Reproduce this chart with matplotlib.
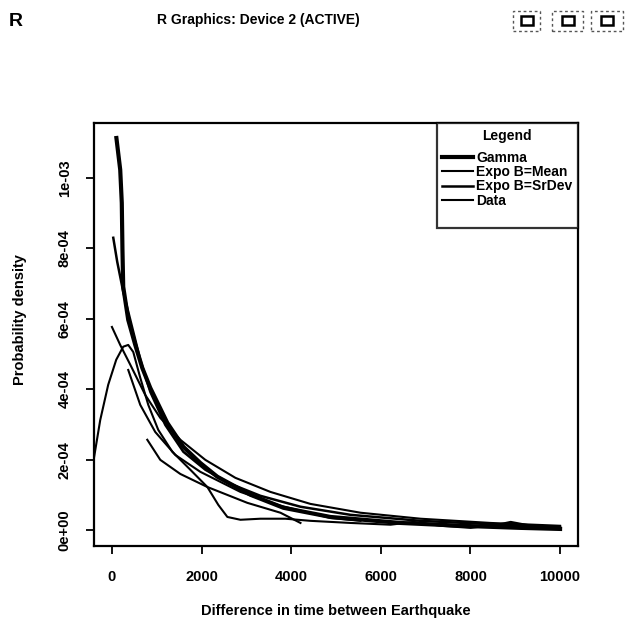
import matplotlib
matplotlib.use('Agg')
import matplotlib.pyplot as plt
from matplotlib.patches import Rectangle
from matplotlib.lines import Line2D

plt.rcParams['font.family'] = ['Liberation Sans', 'DejaVu Sans']

# Values (x: time difference, y: density in 1e-4 units)
gamma_x = [100, 185, 220, 235, 252, 364, 521, 677, 856, 1235, 1593, 1973, 2353,
           3090, 3827, 4877, 6441, 7781, 9122, 10000]
gamma_y = [11.13, 10.23, 9.29, 7.96, 6.91, 5.97, 5.26, 4.61, 4.04, 3.05, 2.37, 1.91,
           1.52, 1.01, 0.64, 0.38, 0.21, 0.13, 0.07, 0.04]

sd_x = [30, 118, 252, 409, 632, 856, 1191, 1593, 2084, 2643, 3313, 4207, 5324,
        6888, 8675, 10000]
sd_y = [8.30, 7.62, 6.77, 5.97, 4.84, 3.93, 2.99, 2.23, 1.72, 1.32, 0.98, 0.67,
        0.44, 0.27, 0.16, 0.10]

mean_x = [0, 185, 409, 744, 1079, 1526, 2084, 2755, 3537, 4430, 5547, 6888, 8452, 10000]
mean_y = [5.77, 5.26, 4.70, 3.84, 3.19, 2.57, 2.00, 1.49, 1.09, 0.75, 0.50, 0.33,
          0.21, 0.13]

data_x = [-400, -261, -83, 96, 252, 364, 476, 632, 811, 1034, 1347, 1749, 2129,
          2375, 2576, 2867, 3313, 3872, 4430, 5324, 6218, 6731, 7335, 8005, 8675,
          8899, 9234, 9681, 10000]
data_y = [2.06, 3.13, 4.13, 4.84, 5.21, 5.26, 5.06, 4.33, 3.56, 2.85, 2.23, 1.72,
          1.23, 0.72, 0.38, 0.30, 0.33, 0.33, 0.27, 0.21, 0.16, 0.24, 0.13, 0.07,
          0.18, 0.24, 0.16, 0.07, 0.04]

# two extra overlaid curves without legend entry
extra1_x = [789, 1079, 1526, 2129, 3022, 3760, 4207]
extra1_y = [2.57, 2.00, 1.60, 1.23, 0.78, 0.50, 0.21]
extra2_x = [364, 632, 967, 1414, 1973, 2867, 3760, 4877, 5547]
extra2_y = [4.55, 3.56, 2.79, 2.14, 1.66, 1.09, 0.70, 0.35, 0.27]

x_ticks = [0, 2000, 4000, 6000, 8000, 10000]
y_ticks = [0, 2e-4, 4e-4, 6e-4, 8e-4, 1e-3]
y_tick_labels = ['0e+00', '2e-04', '4e-04', '6e-04', '8e-04', '1e-03']

fig = plt.figure(figsize=(6.3, 6.33), dpi=100)
ax = fig.add_axes([94 / 630, 1 - 546 / 633, 484 / 630, 423 / 633])

def sc(v):
    return [a * 1e-4 for a in v]

ax.plot(extra1_x, sc(extra1_y), color='black', lw=1.5)
ax.plot(extra2_x, sc(extra2_y), color='black', lw=1.5)
l_gamma, = ax.plot(gamma_x, sc(gamma_y), color='black', lw=3)
l_mean, = ax.plot(mean_x, sc(mean_y), color='black', lw=1.5)
l_sd, = ax.plot(sd_x, sc(sd_y), color='black', lw=1.8)
l_data, = ax.plot(data_x, sc(data_y), color='black', lw=1.5)

ax.set_xlim(-400, 10400)
ax.set_ylim(-4.44e-5, 1.1556e-3)
ax.set_xticks(x_ticks)
ax.set_xticklabels([str(t) for t in x_ticks])
ax.set_yticks(y_ticks)
ax.set_yticklabels(y_tick_labels, rotation=90, va='center')
ax.tick_params(direction='out', length=6, width=1.3, labelsize=10.5, color='black')
ax.tick_params(axis='x', pad=11)
ax.tick_params(axis='y', pad=10)
for lab in ax.get_xticklabels() + ax.get_yticklabels():
    lab.set_fontweight('bold')
for s in ax.spines.values():
    s.set_linewidth(1.6)

# blank last row gives the extra room at the bottom of the R legend box
blank = Line2D([], [], color='none')
leg = ax.legend([l_gamma, l_mean, l_sd, l_data, blank],
                ['Gamma', 'Expo B=Mean', 'Expo B=SrDev', 'Data', ' '],
                loc='upper right', title='Legend', frameon=True,
                fancybox=False, edgecolor='black', borderaxespad=0,
                handlelength=2.2, handletextpad=0.25, labelspacing=0.02,
                borderpad=0.4, prop={'weight': 'bold', 'size': 10})
leg.get_frame().set_linewidth(1.6)
leg.get_title().set_fontweight('bold')
leg.get_title().set_fontsize(10)
leg._legend_box.sep = 6

fig.text(336 / 630, 1 - 611 / 633, 'Difference in time between Earthquake',
         ha='center', va='center', fontsize=10.5, fontweight='bold')
fig.text(20 / 630, 1 - 320 / 633, 'Probability density', rotation=90,
         ha='center', va='center', fontsize=10.5, fontweight='bold')

# window title bar of the R device
fig.text(16 / 630, 1 - 21 / 633, 'R', ha='center', va='center', fontsize=14,
         fontweight='bold')
fig.text(258 / 630, 1 - 20 / 633, 'R Graphics: Device 2 (ACTIVE)', ha='center',
         va='center', fontsize=10, fontweight='bold')
for bx, bw in [(513, 27), (552, 31), (591, 32)]:
    fig.patches.append(Rectangle((bx / 630, 1 - 31 / 633), bw / 630, 20 / 633,
                                 transform=fig.transFigure, fill=False,
                                 ls=(0, (2, 2)), lw=1, ec='#555555'))
    fig.patches.append(Rectangle(((bx + bw / 2 - 6) / 630, 1 - 25 / 633), 12 / 630,
                                 9 / 633, transform=fig.transFigure, fill=False,
                                 lw=1.8, ec='black'))

fig.savefig('out.png', dpi=100)
